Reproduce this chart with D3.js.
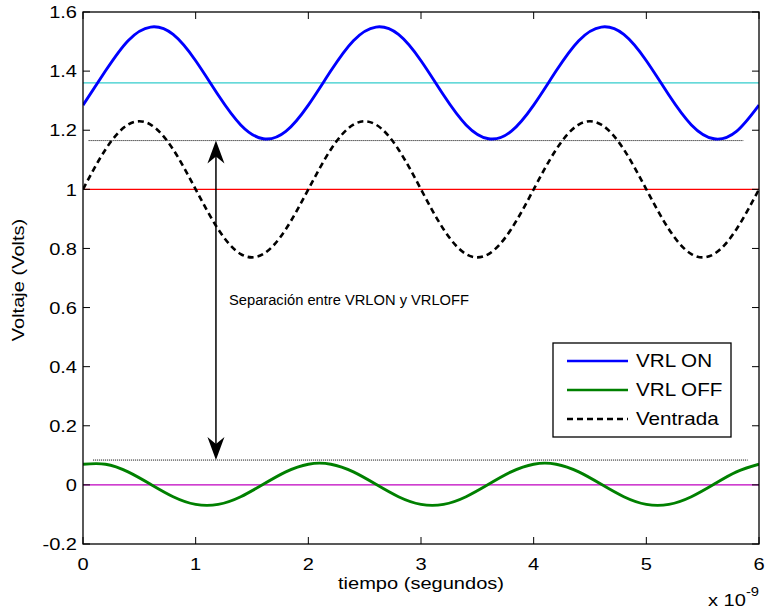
<!DOCTYPE html>
<html>
<head>
<meta charset="utf-8">
<script src="https://cdn.jsdelivr.net/npm/d3@7"></script>
<style>
  html, body { margin: 0; padding: 0; background: #fff; }
  svg { display: block; font-family: "Liberation Sans", Arial, Helvetica, sans-serif; }
</style>
</head>
<body>
<svg id="chart" width="766" height="613"></svg>
<script>
// Time samples (x 10^-9 s)
const tiempo = [0.0,0.2,0.4,0.6,0.8,1.0,1.2,1.4,1.6,1.8,
                2.0,2.2,2.4,2.6,2.8,3.0,3.2,3.4,3.6,3.8,
                4.0,4.2,4.4,4.6,4.8,5.0,5.2,5.4,5.6,5.8,6.0];

// VRL ON (blue)
const vrlOn = [1.285,1.401,1.503,1.549,1.524,1.435,1.319,1.218,1.171,1.196,
               1.285,1.401,1.503,1.549,1.524,1.435,1.319,1.218,1.171,1.196,
               1.285,1.401,1.503,1.549,1.524,1.435,1.319,1.218,1.171,1.196,1.285];

// VRL OFF (green)
const vrlOff = [0.070,0.070,0.044,0.002,-0.040,-0.066,-0.066,-0.040,0.002,0.044,
                0.070,0.070,0.044,0.002,-0.040,-0.066,-0.066,-0.040,0.002,0.044,
                0.070,0.070,0.044,0.002,-0.040,-0.066,-0.066,-0.040,0.002,0.044,0.070];

// Ventrada (black dashed)
const ventrada = [1.000,1.135,1.219,1.219,1.135,1.000,0.865,0.781,0.781,0.865,
                  1.000,1.135,1.219,1.219,1.135,1.000,0.865,0.781,0.781,0.865,
                  1.000,1.135,1.219,1.219,1.135,1.000,0.865,0.781,0.781,0.865,1.000];

// Horizontal reference levels
const refLevels = [
  { y: 1.36, color: "#33cccc" },
  { y: 1.0,  color: "#ff0000" },
  { y: 0.0,  color: "#bf00bf" }
];

// Dotted marker lines for the separation
const dottedLines = [
  { y: 1.165, x0: 0.05, x1: 5.86 },
  { y: 0.084, x0: 0.09, x1: 5.90 }
];
const arrowX = 1.18;

const xTicks = [0,1,2,3,4,5,6];
const yTicks = [-0.2,0,0.2,0.4,0.6,0.8,1,1.2,1.4,1.6];

const legendItems = [
  { label: "VRL ON",   color: "#0000ff", dash: null },
  { label: "VRL OFF",  color: "#008000", dash: null },
  { label: "Ventrada", color: "#000000", dash: "6,4" }
];

const svg = d3.select("#chart");
const margin = { left: 83, top: 12, right: 7, bottom: 69 };
const W = 766 - margin.left - margin.right;
const H = 613 - margin.top - margin.bottom;

// Axis and legend text is drawn slightly widened horizontally
const SX = 1.18;
const FS = 17;
function placeText(sel, px, py) {
  return sel.attr("transform", (d, i) => {
    const X = typeof px === "function" ? px(d, i) : px;
    const Y = typeof py === "function" ? py(d, i) : py;
    return `translate(${X},${Y}) scale(${SX},1)`;
  });
}

const x = d3.scaleLinear().domain([0, 6]).range([0, W]);
const y = d3.scaleLinear().domain([-0.2, 1.6]).range([H, 0]);

const g = svg.append("g").attr("transform", `translate(${margin.left},${margin.top})`);

g.append("defs").append("clipPath").attr("id", "plotClip")
  .append("rect").attr("width", W).attr("height", H);

const plot = g.append("g").attr("clip-path", "url(#plotClip)");

// Reference levels
plot.selectAll("line.ref").data(refLevels).join("line")
  .attr("class", "ref")
  .attr("x1", 0).attr("x2", W)
  .attr("y1", d => y(d.y)).attr("y2", d => y(d.y))
  .attr("stroke", d => d.color).attr("stroke-width", 1.2);

// Dotted separation lines
plot.selectAll("line.dot").data(dottedLines).join("line")
  .attr("class", "dot")
  .attr("x1", d => x(d.x0)).attr("x2", d => x(d.x1))
  .attr("y1", d => y(d.y)).attr("y2", d => y(d.y))
  .attr("stroke", "#000").attr("stroke-width", 1)
  .attr("stroke-dasharray", "1,1");

const line = d3.line().x((d, i) => x(tiempo[i])).y(d => y(d)).curve(d3.curveNatural);

plot.append("path").datum(ventrada).attr("d", line)
  .attr("fill", "none").attr("stroke", "#000").attr("stroke-width", 2.6)
  .attr("stroke-dasharray", "6,4");
plot.append("path").datum(vrlOn).attr("d", line)
  .attr("fill", "none").attr("stroke", "#0000ff").attr("stroke-width", 2.9);
plot.append("path").datum(vrlOff).attr("d", line)
  .attr("fill", "none").attr("stroke", "#008000").attr("stroke-width", 2.9);

// Double-headed arrow
const ax = x(arrowX), ayTop = y(dottedLines[0].y), ayBot = y(dottedLines[1].y);
g.append("line")
  .attr("x1", ax).attr("x2", ax).attr("y1", ayTop + 10).attr("y2", ayBot - 10)
  .attr("stroke", "#000").attr("stroke-width", 1.5);
const headL = 23, headW = 8.5, notch = 7;
g.append("path")
  .attr("d", `M${ax},${ayTop} L${ax - headW},${ayTop + headL} L${ax},${ayTop + headL - notch} L${ax + headW},${ayTop + headL} Z`)
  .attr("fill", "#000");
g.append("path")
  .attr("d", `M${ax},${ayBot} L${ax - headW},${ayBot - headL} L${ax},${ayBot - headL + notch} L${ax + headW},${ayBot - headL} Z`)
  .attr("fill", "#000");

g.append("text")
  .attr("x", 229 - margin.left).attr("y", 305 - margin.top)
  .attr("font-size", 14.7).attr("fill", "#000")
  .text("Separación entre VRLON y VRLOFF");

// Axes box with inward ticks on all sides
const tickLen = 7;
const axG = g.append("g");
axG.append("rect").attr("width", W).attr("height", H)
  .attr("fill", "none").attr("stroke", "#000").attr("stroke-width", 1.3);

axG.selectAll("line.xt").data(xTicks).join("line").attr("class", "xt")
  .attr("x1", d => x(d)).attr("x2", d => x(d)).attr("y1", H).attr("y2", H - tickLen)
  .attr("stroke", "#000");
axG.selectAll("line.xtt").data(xTicks).join("line").attr("class", "xtt")
  .attr("x1", d => x(d)).attr("x2", d => x(d)).attr("y1", 0).attr("y2", tickLen)
  .attr("stroke", "#000");
axG.selectAll("line.yt").data(yTicks).join("line").attr("class", "yt")
  .attr("x1", 0).attr("x2", tickLen).attr("y1", d => y(d)).attr("y2", d => y(d))
  .attr("stroke", "#000");
axG.selectAll("line.ytr").data(yTicks).join("line").attr("class", "ytr")
  .attr("x1", W).attr("x2", W - tickLen).attr("y1", d => y(d)).attr("y2", d => y(d))
  .attr("stroke", "#000");

placeText(axG.selectAll("text.xl").data(xTicks).join("text").attr("class", "xl"),
    d => x(d), H + 26)
  .attr("text-anchor", "middle").attr("font-size", FS)
  .text(d => String(d));
placeText(axG.selectAll("text.yl").data(yTicks).join("text").attr("class", "yl"),
    -6, d => y(d) + 6.2)
  .attr("text-anchor", "end").attr("font-size", FS)
  .text(d => String(+d.toFixed(1)));

// Axis titles
placeText(svg.append("text"), 421, 589)
  .attr("text-anchor", "middle").attr("font-size", FS)
  .text("tiempo (segundos)");
svg.append("text")
  .attr("transform", `translate(24,280) rotate(-90) scale(${SX},1)`)
  .attr("text-anchor", "middle").attr("font-size", FS)
  .text("Voltaje (Volts)");

// Exponent label
const expT = placeText(svg.append("text"), 708, 606).attr("font-size", FS);
expT.append("tspan").text("x 10");
expT.append("tspan").attr("dy", -10).attr("font-size", 12.5).text("-9");

// Legend
const lg = svg.append("g").attr("transform", "translate(553,343)");
lg.append("rect").attr("width", 178).attr("height", 94)
  .attr("fill", "#fff").attr("stroke", "#000").attr("stroke-width", 1.3);
const li = lg.selectAll("g.item").data(legendItems).join("g").attr("class", "item")
  .attr("transform", (d, i) => `translate(0,${18 + i * 29})`);
li.append("line").attr("x1", 14).attr("x2", 75).attr("y1", 0).attr("y2", 0)
  .attr("stroke", d => d.color).attr("stroke-width", 2.6)
  .attr("stroke-dasharray", d => d.dash);
placeText(li.append("text"), 83, 6.3)
  .attr("font-size", 17.5).text(d => d.label);
</script>
</body>
</html>
